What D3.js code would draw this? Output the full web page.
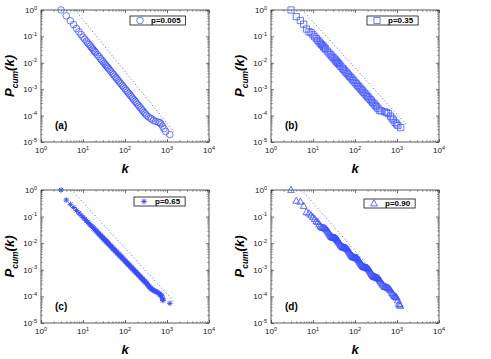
<!DOCTYPE html>
<html>
<head>
<meta charset="utf-8">
<script src="https://cdn.jsdelivr.net/npm/d3@7"></script>
<style>
  body { margin: 0; background: #fff; }
  svg { display: block; font-family: "Liberation Sans", Arial, sans-serif; }
</style>
</head>
<body>
<svg id="fig" width="491" height="359"></svg>
<script>
// cumulative degree distributions, [k, Pcum]
var seriesA = [[3,1],[4,0.6],[5,0.39],[6,0.28],[7,0.2],[8,0.15],[9,0.118],[10,0.094],[11,0.0785],[12,0.066],[13,0.0564],[14,0.0489],[15,0.0427],[16,0.0376],[17,0.0334],[18,0.0299],[19,0.0268],[20,0.0243],[22,0.0201],[24,0.017],[26,0.0145],[28,0.01256],[30,0.01096],[32,0.00966],[34,0.00859],[36,0.00767],[38,0.00689],[40,0.00624],[43,0.00542],[46,0.00473],[50,0.00403],[53,0.0036],[57,0.00311],[61,0.00273],[65,0.0024],[70,0.00208],[75,0.00182],[80,0.0016],[86,0.00139],[92,0.00122],[100,0.00104],[107,0.000908],[115,0.000785],[123,0.00069],[132,0.0006],[141,0.000528],[151,0.000461],[162,0.000402],[174,0.000349],[186,0.000306],[200,0.000266],[214,0.000233],[230,0.000202],[246,0.000177],[264,0.000154],[283,0.000134],[303,0.000118],[325,0.000103],[360,9.0e-5],[400,8.0e-5],[433,7.4e-5],[480,6.6e-5],[540,6.0e-5],[620,5.6e-5],[680,5.4e-5],[720,4.8e-5],[780,4.0e-5],[850,3.2e-5],[930,2.5e-5],[1170,1.9e-5]];

var seriesB = [[3,1],[4,0.56],[5,0.4],[6,0.29],[7,0.19],[8,0.15],[9,0.138],[10,0.1146],[11,0.0966],[12,0.0826],[13,0.0713],[14,0.0625],[15,0.0552],[16,0.0491],[17,0.0442],[18,0.0398],[19,0.0361],[20,0.0329],[22,0.0277],[24,0.0237],[26,0.0205],[28,0.01795],[30,0.01585],[32,0.01413],[34,0.01268],[36,0.01143],[38,0.01035],[40,0.00944],[43,0.0083],[46,0.00733],[50,0.00631],[53,0.00569],[57,0.00498],[61,0.00443],[65,0.00394],[70,0.00345],[75,0.00305],[80,0.00271],[86,0.00239],[92,0.0021],[100,0.00182],[107,0.00161],[115,0.00141],[123,0.00125],[132,0.0011],[141,0.00098],[151,0.000865],[162,0.00076],[174,0.000668],[186,0.000593],[200,0.000521],[214,0.000462],[230,0.000405],[246,0.000359],[264,0.000316],[283,0.000279],[303,0.000247],[325,0.000217],[350,0.00019],[380,0.00016],[420,0.00015],[510,0.00014],[560,0.00013],[620,0.00012],[700,9.5e-5],[760,8.0e-5],[820,6.8e-5],[900,5.5e-5],[980,4.8e-5],[1050,4.2e-5],[1230,3.5e-5]];

var seriesC = [[3,1],[4,0.42],[5,0.29],[6,0.22],[7,0.17],[8,0.136],[9,0.112],[10,0.0944],[11,0.0809],[12,0.07],[13,0.0614],[14,0.0544],[15,0.0485],[16,0.0437],[17,0.0396],[18,0.0361],[19,0.0329],[20,0.0303],[22,0.0259],[24,0.0225],[26,0.0197],[28,0.01746],[30,0.0156],[32,0.01403],[34,0.0127],[36,0.01156],[38,0.01057],[40,0.00973],[43,0.00865],[46,0.00773],[50,0.00675],[53,0.00614],[57,0.00543],[61,0.00488],[65,0.00439],[70,0.00388],[75,0.00347],[80,0.00312],[86,0.00277],[92,0.00248],[100,0.00216],[107,0.00194],[115,0.00172],[123,0.00154],[132,0.00137],[141,0.00123],[151,0.0011],[162,0.00098],[174,0.00087],[186,0.00078],[200,0.000693],[214,0.000622],[230,0.000551],[246,0.000494],[264,0.00044],[283,0.000393],[303,0.000352],[325,0.000313],[350,0.00027],[380,0.00023],[410,0.0002],[450,0.00018],[500,0.00016],[570,0.00015],[640,0.00013],[700,0.000115],[750,0.000105],[780,8.5e-5],[800,7.0e-5],[1170,5.5e-5],
  [21,0.028],[23,0.024],[25,0.021],[27,0.01853],[29,0.01648],[31,0.01479],[33,0.0133],[35,0.0121],[37,0.01104],[39,0.01014],[41,0.00933],[45,0.00802],[48,0.00721],[52,0.00632],[55,0.00577],[59,0.00514],[63,0.00461],[68,0.00406],[72,0.00371],[78,0.00325],[83,0.00294],[89,0.00262],[96,0.00231],[103,0.00206],[111,0.00182],[119,0.00162],[127,0.00146],[136,0.0013],[146,0.00116],[156,0.00104],[168,0.000925],[180,0.000826],[193,0.000735],[207,0.000656],[222,0.000585],[238,0.000521],[255,0.000466],[273,0.000417],[293,0.000371],[314,0.000331],[337,0.000295],[365,0.00025],[395,0.000215],[430,0.00019],[475,0.00017],[535,0.000155],[600,0.00014],[670,0.00012],[725,0.00011],[790,7.8e-5]];

var seriesD = [[3,1],[4,0.39],[5,0.36],[6,0.25],[7,0.145],[8,0.13],[9,0.11],[10,0.094],[11,0.08],[12,0.066],[13,0.0612],[14,0.0505],[15,0.0433],[16,0.0394],[17,0.0378],[18,0.0372],[19,0.0363],[20,0.0348],[22,0.0295],[24,0.0236],[26,0.0193],[28,0.0171],[30,0.0161],[32,0.0158],[34,0.0154],[36,0.01456],[38,0.01327],[40,0.01183],[43,0.0098],[46,0.00826],[50,0.0072],[53,0.00684],[57,0.00668],[61,0.00647],[65,0.00604],[70,0.00522],[75,0.00437],[80,0.0037],[86,0.00319],[92,0.00295],[100,0.00284],[107,0.00277],[115,0.00258],[123,0.00228],[132,0.0019],[141,0.0016],[151,0.00138],[162,0.00126],[174,0.00122],[186,0.00119],[200,0.00113],[214,0.00101],[230,0.000851],[246,0.000714],[264,0.000604],[283,0.000545],[303,0.00052],[325,0.000507],[350,0.000486],[380,0.00043],[410,0.000359],[450,0.000282],[500,0.000233],[560,0.000218],[620,0.000207],[690,0.000175],[770,0.000132],[850,0.000105],[930,9.5e-5],[980,9.0e-5],[1050,7.0e-5],[1100,5.2e-5],[1150,4.8e-5],[1200,4.4e-5],
  [21,0.0321],[23,0.0264],[25,0.0213],[27,0.0181],[29,0.01656],[31,0.0159],[33,0.01556],[35,0.01496],[37,0.0139],[39,0.01253],[41,0.01076],[45,0.009],[48,0.00771],[52,0.00702],[55,0.00676],[59,0.00658],[63,0.00625],[68,0.00562],[72,0.00478],[78,0.00402],[83,0.00344],[89,0.00307],[96,0.0029],[103,0.00281],[111,0.00267],[119,0.00242],[127,0.00208],[136,0.00175],[146,0.00149],[156,0.00132],[168,0.00124],[180,0.0012],[193,0.00116],[207,0.00107],[222,0.00093],[238,0.00078],[255,0.000656],[273,0.000573],[293,0.000532],[314,0.000513],[337,0.000497],[365,0.000457],[395,0.000393],[430,0.000318],[475,0.000256],[530,0.000225],[590,0.000212],[655,0.00019],[730,0.000152],[810,0.000118],[890,0.0001]];

// dotted reference lines (two end points per panel)
var refA = [[6.5,1],[1470,2.4e-5]];
var refB = [[5.6,1],[1630,4.8e-5]];
var refC = [[5.4,1],[1470,6.3e-5]];
var refD = [[5.4,1],[1490,3.9e-5]];

var legendLabels = ["p=0.005", "p=0.35", "p=0.65", "p=0.90"];
var panelTags = ["(a)", "(b)", "(c)", "(d)"];
var markerKinds = ["circle", "square", "star", "triangle"];
var xTickExp = [0, 1, 2, 3, 4];
var yTickExp = [-5, -4, -3, -2, -1, 0];

var allSeries = [seriesA, seriesB, seriesC, seriesD];
var allRefs = [refA, refB, refC, refD];

// panel boxes in pixels
var boxes = [
  {x: 41,  y: 10,  w: 168, h: 132, lx: 130, ly: 16},
  {x: 271, y: 10,  w: 168, h: 132, lx: 367, ly: 16},
  {x: 41,  y: 190, w: 168, h: 133, lx: 134, ly: 197},
  {x: 271, y: 190, w: 168, h: 133, lx: 364, ly: 199}
];

var blue = "#3a4dff";
var svg = d3.select("#fig");
svg.append("rect").attr("width", 491).attr("height", 359).attr("fill", "#fff");

function markerPath(kind) {
  if (kind === "circle") return "M3.3,0A3.3,3.3 0 1,1 -3.3,0A3.3,3.3 0 1,1 3.3,0Z";
  if (kind === "square") return "M-3.1,-3.1H3.1V3.1H-3.1Z";
  if (kind === "triangle") return "M0,-3.8L3.4,2.4H-3.4Z";
  // matlab style asterisk: + and x
  return "M-2.8,0H2.8M0,-2.8V2.8M-2,-2L2,2M-2,2L2,-2";
}
var markerWidth = {circle: 0.75, square: 0.75, star: 1, triangle: 0.8};

boxes.forEach(function(b, i) {
  var x = d3.scaleLog().domain([1, 1e4]).range([0, b.w]);
  var y = d3.scaleLog().domain([1e-5, 1]).range([b.h, 0]);

  var g = svg.append("g").attr("transform", "translate(" + b.x + "," + b.y + ")");

  var minorX = x.ticks().filter(function(d) { return Math.abs(Math.log10(d) % 1) > 1e-6; });
  var minorY = y.ticks().filter(function(d) { return Math.abs(Math.log10(d) % 1) > 1e-6; });
  var majorX = xTickExp.map(function(e) { return Math.pow(10, e); });
  var majorY = yTickExp.map(function(e) { return Math.pow(10, e); });

  // ticks point inward on all four sides
  var axes = [
    [d3.axisBottom(x), "translate(0," + b.h + ")", majorX, minorX],
    [d3.axisTop(x), "translate(0,0)", majorX, minorX],
    [d3.axisLeft(y), "translate(0,0)", majorY, minorY],
    [d3.axisRight(y), "translate(" + b.w + ",0)", majorY, minorY]
  ];
  axes.forEach(function(a) {
    var maj = g.append("g").attr("transform", a[1])
      .call(a[0].tickValues(a[2]).tickSize(-3).tickFormat(""));
    maj.select(".domain").remove();
    maj.selectAll("line").attr("stroke", "#333").attr("stroke-width", 0.7);
    var mnr = g.append("g").attr("transform", a[1])
      .call(a[0].tickValues(a[3]).tickSize(-1.8).tickFormat(""));
    mnr.select(".domain").remove();
    mnr.selectAll("line").attr("stroke", "#555").attr("stroke-width", 0.6);
  });

  g.append("rect")
    .attr("width", b.w).attr("height", b.h)
    .attr("fill", "none").attr("stroke", "#333").attr("stroke-width", 0.8);

  // tick labels 10^n
  var xl = g.selectAll(".xl").data(xTickExp).enter().append("text")
    .attr("x", function(d) { return x(Math.pow(10, d)); })
    .attr("y", b.h + 11)
    .attr("text-anchor", "middle")
    .style("font-size", "8px")
    .attr("fill", "#111");
  xl.append("tspan").text("10");
  xl.append("tspan").attr("dy", -3.5).style("font-size", "5.5px").text(function(d) { return d; });

  var yl = g.selectAll(".yl").data(yTickExp).enter().append("text")
    .attr("x", -4)
    .attr("y", function(d) { return y(Math.pow(10, d)) + 3; })
    .attr("text-anchor", "end")
    .style("font-size", "8px")
    .attr("fill", "#111");
  yl.append("tspan").text("10");
  yl.append("tspan").attr("dy", -3.5).style("font-size", "5.5px").text(function(d) { return d; });

  // axis titles
  g.append("text")
    .attr("x", b.w / 2).attr("y", b.h + 31)
    .attr("text-anchor", "middle")
    .style("font-size", "13px").style("font-weight", "bold").style("font-style", "italic")
    .text("k");

  var yt = g.append("text")
    .attr("transform", "translate(-27," + (b.h / 2) + ") rotate(-90)")
    .attr("text-anchor", "middle")
    .style("font-size", "13px").style("font-weight", "bold").style("font-style", "italic");
  yt.append("tspan").text("P");
  yt.append("tspan").attr("dy", 3.5).style("font-size", "8.5px").text("cum");
  yt.append("tspan").attr("dy", -3.5).text("(k)");

  // reference line
  g.append("path")
    .datum(allRefs[i])
    .attr("d", d3.line().x(function(d) { return x(d[0]); }).y(function(d) { return y(d[1]); }))
    .attr("fill", "none")
    .attr("stroke", "#4a5cff")
    .attr("stroke-width", 1)
    .attr("stroke-dasharray", "1,2.4");

  // data markers
  g.selectAll(".pt").data(allSeries[i]).enter().append("path")
    .attr("transform", function(d) { return "translate(" + x(d[0]) + "," + y(d[1]) + ")"; })
    .attr("d", markerPath(markerKinds[i]))
    .attr("fill", "none")
    .attr("stroke", blue)
    .attr("stroke-width", markerWidth[markerKinds[i]]);

  // panel tag
  g.append("text")
    .attr("x", 14).attr("y", b.h - 13)
    .style("font-size", "10px").style("font-weight", "bold")
    .text(panelTags[i]);

  // legend
  var lg = svg.append("g").attr("transform", "translate(" + b.lx + "," + b.ly + ")");
  var lt = lg.append("text")
    .attr("x", 21).attr("y", 7.3)
    .style("font-size", "8px").style("font-weight", "bold")
    .text(legendLabels[i]);
  var tw = lt.node().getComputedTextLength();
  lg.insert("rect", "text")
    .attr("width", tw + 26).attr("height", 9)
    .attr("fill", "#fff").attr("stroke", "#111").attr("stroke-width", 0.8);
  lg.append("path")
    .attr("transform", "translate(10,4.5)")
    .attr("d", markerPath(markerKinds[i]))
    .attr("fill", "none").attr("stroke", blue).attr("stroke-width", markerWidth[markerKinds[i]]);
});
</script>
</body>
</html>
